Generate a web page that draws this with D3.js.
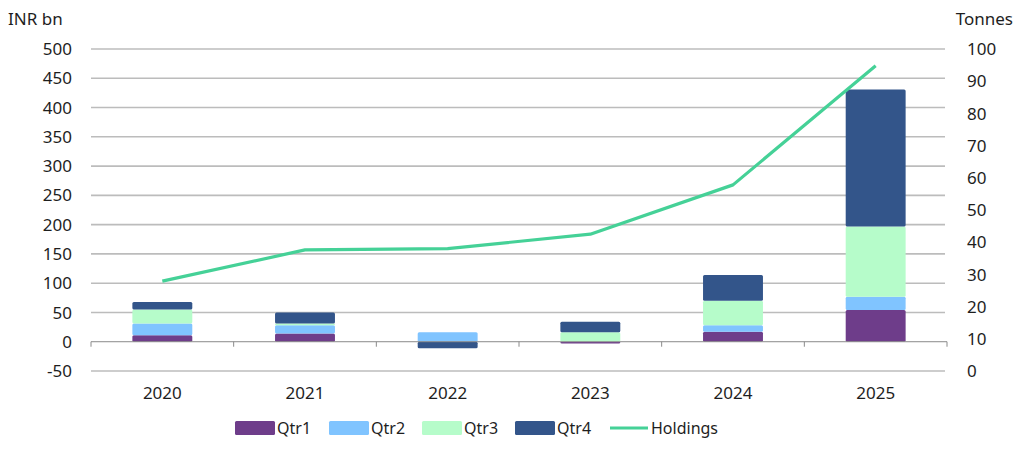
<!DOCTYPE html>
<html>
<head>
<meta charset="utf-8">
<script src="https://d3js.org/d3.v7.min.js"></script>
<style>
  body { margin: 0; background: #fff; }
  text { font-family: "Noto Sans", "Open Sans", sans-serif; fill: #1e1e1e; }
</style>
</head>
<body>
<script>
var years = ['2020', '2021', '2022', '2023', '2024', '2025'];
var qtr1 = [11, 14, 0, -3, 17, 54];
var qtr2 = [20, 14, 16, 0, 11, 23];
var qtr3 = [24, 3, 0, 16, 42, 120];
var qtr4 = [13, 19, -11, 18, 44, 234];
var holdings = [27.9, 37.6, 38.0, 42.5, 57.8, 94.8];
var leftTicks = [-50, 0, 50, 100, 150, 200, 250, 300, 350, 400, 450, 500];
var rightTicks = [0, 10, 20, 30, 40, 50, 60, 70, 80, 90, 100];

var series = ['Qtr1', 'Qtr2', 'Qtr3', 'Qtr4'];
var colors = {Qtr1: '#6e3d8a', Qtr2: '#80c4ff', Qtr3: '#b6fcca', Qtr4: '#33558a'};
var lineColor = '#45d197';

var W = 1024, H = 449;
var margin = {left: 91, right: 77, top: 49, bottom: 78};
var width = W - margin.left - margin.right,
    height = H - margin.top - margin.bottom;

var svg = d3.select('body').append('svg')
    .attr('width', W)
    .attr('height', H);
var g = svg.append('g')
    .attr('transform', 'translate(' + [margin.left, margin.top] + ')');

var table = years.map((y, i) => ({year: y, Qtr1: qtr1[i], Qtr2: qtr2[i], Qtr3: qtr3[i], Qtr4: qtr4[i]}));

var x = d3.scaleBand().domain(years).range([0, width]).padding(0);
var y = d3.scaleLinear().domain([-50, 500]).range([height, 0]);
var y2 = d3.scaleLinear().domain([0, 100]).range([height, 0]);

// gridlines
g.append('g').selectAll('line')
    .data(leftTicks.filter(d => d !== 0))
    .enter().append('line')
    .attr('x1', 0).attr('x2', width - 2)
    .attr('y1', d => y(d)).attr('y2', d => y(d))
    .attr('stroke', '#bcbcbc')
    .attr('stroke-width', 1.6);

// stacked bars
var stack = d3.stack().keys(series).offset(d3.stackOffsetDiverging)(table);
var barW = x.bandwidth() * 0.42;
g.append('g').selectAll('g')
    .data(stack)
    .enter().append('g')
    .attr('fill', d => colors[d.key])
    .selectAll('rect')
    .data(d => d)
    .enter().append('rect')
    .attr('x', d => x(d.data.year) + (x.bandwidth() - barW) / 2)
    .attr('width', barW)
    .attr('y', d => y(d[1]))
    .attr('height', d => Math.max(0, y(d[0]) - y(d[1])))
    .attr('rx', 1.5);

// zero line with category ticks
var zero = g.append('g').attr('stroke', '#8a8a8a').attr('stroke-width', 1);
zero.append('line')
    .attr('x1', 0).attr('x2', width)
    .attr('y1', y(0)).attr('y2', y(0));
zero.selectAll('.tk')
    .data(years.map(d => x(d)).concat([width]))
    .enter().append('line')
    .attr('x1', d => d).attr('x2', d => d)
    .attr('y1', y(0)).attr('y2', y(0) + 5);

// holdings line
var line = d3.line()
    .x((d, i) => x(years[i]) + x.bandwidth() / 2)
    .y(d => y2(d));
g.append('path')
    .datum(holdings)
    .attr('d', line)
    .attr('fill', 'none')
    .attr('stroke', lineColor)
    .attr('stroke-width', 3.2)
    .attr('stroke-linejoin', 'round');

// left axis labels
g.append('g').selectAll('text')
    .data(leftTicks)
    .enter().append('text')
    .attr('x', -19)
    .attr('y', d => y(d))
    .attr('dy', '0.36em')
    .attr('text-anchor', 'end')
    .style('font-size', '17px')
    .text(d => d);

// right axis labels
g.append('g').selectAll('text')
    .data(rightTicks)
    .enter().append('text')
    .attr('x', width + 20)
    .attr('y', d => y2(d))
    .attr('dy', '0.36em')
    .attr('text-anchor', 'start')
    .style('font-size', '17px')
    .text(d => d);

// x labels
g.append('g').selectAll('text')
    .data(years)
    .enter().append('text')
    .attr('x', d => x(d) + x.bandwidth() / 2)
    .attr('y', height + 28)
    .attr('text-anchor', 'middle')
    .style('font-size', '17px')
    .text(d => d);

// axis titles
svg.append('text').attr('x', 8).attr('y', 25).style('font-size', '17px').text('INR bn');
svg.append('text').attr('x', 1013).attr('y', 25).attr('text-anchor', 'end').style('font-size', '17px').text('Tonnes');

// legend
var legend = svg.append('g').attr('transform', 'translate(0,428)');
var legX = [235, 329, 422, 515];
series.forEach((s, i) => {
    legend.append('rect')
        .attr('x', legX[i]).attr('y', -7)
        .attr('width', 40).attr('height', 14)
        .attr('rx', 1.5)
        .attr('fill', colors[s]);
    legend.append('text')
        .attr('x', legX[i] + 42).attr('y', 0).attr('dy', '0.36em')
        .style('font-size', '16px')
        .text(s);
});
legend.append('line')
    .attr('x1', 610).attr('x2', 648).attr('y1', 0).attr('y2', 0)
    .attr('stroke', lineColor).attr('stroke-width', 3.2);
legend.append('text')
    .attr('x', 651).attr('y', 0).attr('dy', '0.36em')
    .style('font-size', '16px')
    .text('Holdings');
</script>
</body>
</html>
